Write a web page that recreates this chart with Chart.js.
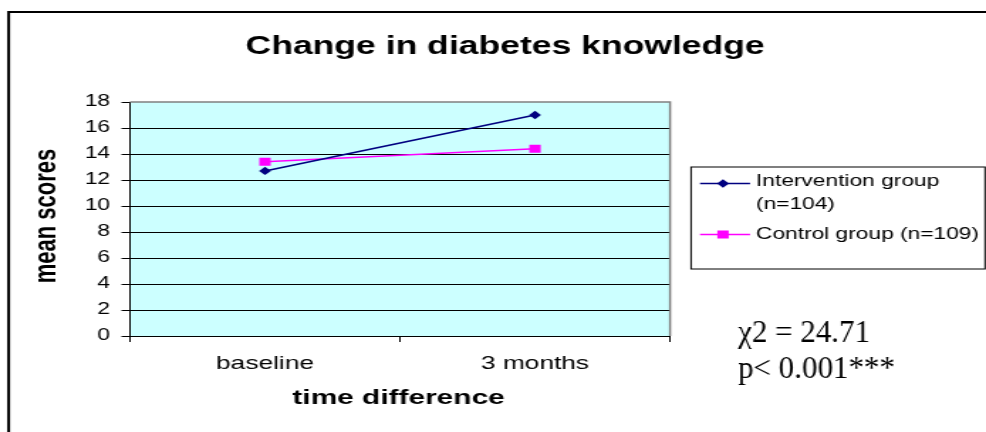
<!DOCTYPE html>
<html>
<head>
<meta charset="utf-8">
<script src="https://cdn.jsdelivr.net/npm/chart.js@4.4.1/dist/chart.umd.min.js"></script>
<style>
  html, body { margin: 0; padding: 0; background: #fff; }
  #c { display: block; width: 986px !important; height: 432px !important; }
</style>
</head>
<body>
<canvas id="c" width="694" height="432" style="width:986px;height:432px"></canvas>
<script>
// Chart content
const chartTitle = 'Change in diabetes knowledge';
const xAxisTitle = 'time difference';
const yAxisTitle = 'mean scores';
const categories = ['baseline', '3 months'];
const yTickValues = [0, 2, 4, 6, 8, 10, 12, 14, 16, 18];
const interventionScores = [12.7, 17.0];
const controlScores = [13.4, 14.4];
const interventionLabel = ['Intervention group', '(n=104)'];
const controlLabel = ['Control group (n=109)'];
const statLines = ['\u03C72 = 24.71', 'p< 0.001***'];

// The drawing surface is laid out narrow and widened by CSS.
const canvas = document.getElementById('c');
const S = 986 / canvas.width;
const SANS = '"Liberation Sans", Arial, sans-serif';
const SERIF = '"Liberation Serif", "Times New Roman", serif';

Chart.defaults.font.family = SANS;
Chart.defaults.color = '#000';

function drawMarker(ctx, style, x, y, r, color) {
  ctx.fillStyle = color;
  ctx.beginPath();
  if (style === 'rectRot') {
    ctx.moveTo(x - r, y); ctx.lineTo(x, y - r); ctx.lineTo(x + r, y); ctx.lineTo(x, y + r);
  } else {
    const h = r * Math.SQRT1_2;
    ctx.rect(x - h, y - h, 2 * h, 2 * h);
  }
  ctx.closePath();
  ctx.fill();
}

const decorations = {
  id: 'decorations',
  beforeDraw(chart) {
    const { ctx, chartArea: a } = chart;
    ctx.save();
    ctx.fillStyle = '#fff';
    ctx.fillRect(0, 0, chart.width, chart.height);
    ctx.fillStyle = '#CCFFFF';
    ctx.fillRect(a.left, a.top, a.right - a.left, a.bottom - a.top);
    // outer frame (left and top edges)
    ctx.strokeStyle = '#000';
    ctx.lineWidth = 2;
    ctx.beginPath();
    ctx.moveTo(6.1, chart.height + 2);
    ctx.lineTo(6.1, 12);
    ctx.lineTo(chart.width + 2, 12);
    ctx.stroke();
    ctx.restore();
  },
  beforeDatasetsDraw(chart) {
    const { ctx, chartArea: a } = chart;
    ctx.save();
    ctx.strokeStyle = '#808080';
    ctx.lineWidth = 1.5;
    ctx.beginPath();
    ctx.moveTo(a.left, a.top);
    ctx.lineTo(a.right, a.top);
    ctx.lineTo(a.right, a.bottom);
    ctx.stroke();
    ctx.restore();
  },
  afterDraw(chart) {
    const { ctx, chartArea: a } = chart;
    ctx.save();
    ctx.fillStyle = '#000';

    // title
    ctx.font = 'bold 25px ' + SANS;
    ctx.textAlign = 'center';
    ctx.textBaseline = 'alphabetic';
    ctx.fillText(chartTitle, 355.5, 54);

    // x axis title
    ctx.font = 'bold 21px ' + SANS;
    ctx.fillText(xAxisTitle, (a.left + a.right) / 2 - 1, 404);

    // y axis title
    ctx.save();
    ctx.translate(33.3, 216);
    ctx.rotate(-Math.PI / 2);
    ctx.font = 'bold 22px ' + SANS;
    ctx.textBaseline = 'middle';
    ctx.fillText(yAxisTitle, 0, 0);
    ctx.restore();

    // legend
    const box = { x: 486.4, y: 167, w: 206.9, h: 102 };
    ctx.strokeStyle = '#000';
    ctx.lineWidth = 1;
    ctx.strokeRect(box.x, box.y, box.w, box.h);
    const entries = [
      { ds: chart.data.datasets[0], lines: interventionLabel, lineY: 183.5, baselines: [186, 209] },
      { ds: chart.data.datasets[1], lines: controlLabel, lineY: 234.5, baselines: [239] }
    ];
    ctx.font = '16px ' + SANS;
    ctx.textAlign = 'left';
    entries.forEach(e => {
      ctx.strokeStyle = e.ds.borderColor;
      ctx.lineWidth = e.ds.borderWidth;
      ctx.beginPath();
      ctx.moveTo(492.7, e.lineY);
      ctx.lineTo(527.9, e.lineY);
      ctx.stroke();
      drawMarker(ctx, e.ds.pointStyle, 508.9, e.lineY, e.ds.pointRadius, e.ds.backgroundColor);
      ctx.fillStyle = '#000';
      e.lines.forEach((t, i) => ctx.fillText(t, 532.1, e.baselines[i]));
    });

    // test statistic, set in unstretched serif type
    ctx.save();
    ctx.scale(1 / S, 1);
    ctx.font = '31px ' + SERIF;
    ctx.fillStyle = '#000';
    ctx.fillText(statLines[0], 738, 342);
    ctx.fillText(statLines[1], 738, 378);
    ctx.restore();

    ctx.restore();
  }
};

new Chart(canvas, {
  type: 'line',
  data: {
    labels: categories,
    datasets: [
      {
        label: interventionLabel.join(' '),
        data: interventionScores,
        borderColor: '#000080',
        backgroundColor: '#000080',
        borderWidth: 1.6,
        pointStyle: 'rectRot',
        pointRadius: 4.2,
        pointBorderWidth: 0,
        tension: 0,
        fill: false
      },
      {
        label: controlLabel.join(' '),
        data: controlScores,
        borderColor: '#FF00FF',
        backgroundColor: '#FF00FF',
        borderWidth: 1.5,
        pointStyle: 'rect',
        pointRadius: 5.66,
        pointBorderWidth: 0,
        tension: 0,
        fill: false
      }
    ]
  },
  options: {
    responsive: false,
    devicePixelRatio: 1,
    animation: false,
    events: [],
    layout: { padding: { top: 102, right: 222.4, left: 0, bottom: 0 } },
    plugins: {
      legend: { display: false },
      title: { display: false },
      tooltip: { enabled: false }
    },
    scales: {
      x: {
        type: 'category',
        offset: true,
        grid: {
          offset: true,
          drawOnChartArea: false,
          drawTicks: true,
          tickLength: 6,
          color: '#000',
          tickColor: '#000',
          lineWidth: 1
        },
        border: { display: true, color: '#000', width: 1 },
        ticks: {
          color: '#000',
          font: { family: SANS, size: 18.5 },
          padding: 11,
          maxRotation: 0,
          autoSkip: false
        },
        afterFit(scale) { scale.height = 96; }
      },
      y: {
        min: 0,
        max: 18,
        afterBuildTicks(scale) { scale.ticks = yTickValues.map(v => ({ value: v })); },
        grid: {
          color: c => (c.tick && c.tick.value === 18 ? 'rgba(0,0,0,0)' : '#000'),
          tickColor: '#000',
          tickLength: 6,
          drawTicks: true,
          lineWidth: 1
        },
        border: { display: true, color: '#000', width: 1 },
        ticks: {
          color: '#000',
          font: { family: SANS, size: 16 },
          padding: 8
        },
        afterFit(scale) { scale.width = 91.5; }
      }
    }
  },
  plugins: [decorations]
});
</script>
</body>
</html>
